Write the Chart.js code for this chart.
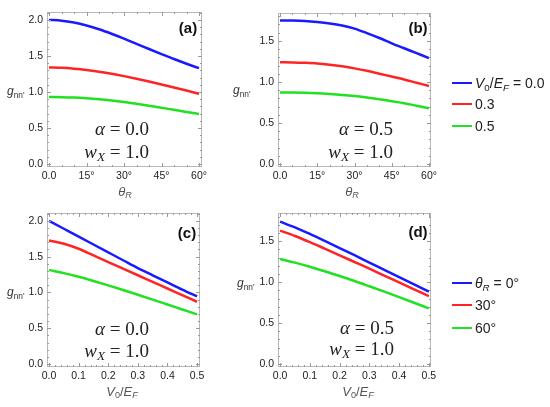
<!DOCTYPE html>
<html>
<head>
<meta charset="utf-8">
<script src="https://cdn.jsdelivr.net/npm/chart.js@4.4.1/dist/chart.umd.min.js"></script>
<style>
    body { margin: 0; background: #fff; }
    #wrap { position: relative; width: 550px; height: 407px; overflow: hidden; font-family: "Liberation Sans", Arial, sans-serif; }
    canvas { position: absolute; }
    .txt { position: absolute; white-space: nowrap; line-height: 1; }
    .txt sub { font-size: 70%; vertical-align: -0.3em; line-height: 0; }
    .math { font-family: "Liberation Serif", "DejaVu Serif", serif; font-size: 19px; color: #222; transform: translate(-100%, -50%); }
    .tag { font-weight: bold; font-size: 15px; color: #111; transform: translate(-50%, -50%); }
    .xtitle { font-size: 13px; color: #555; transform: translate(-50%, -50%); }
    .ytitle { font-size: 12px; color: #333; transform: translateY(-50%); }
    .leg { font-size: 14px; color: #222; transform: translateY(-50%); }
    .legline { position: absolute; width: 20px; height: 2px; }
</style>
</head>
<body>
<div id="wrap">
    <canvas id="panelA" width="215" height="200" style="left:0;top:0"></canvas>
    <canvas id="panelB" width="215" height="200" style="left:231px;top:0"></canvas>
    <canvas id="panelC" width="215" height="207" style="left:0;top:200px"></canvas>
    <canvas id="panelD" width="215" height="207" style="left:231px;top:200px"></canvas>
</div>
<script>
// Ejes x
const thetaDeg = [0, 5, 10, 15, 20, 25, 30, 35, 40, 45, 50, 55, 60];
const v0Ratio = [0, 0.05, 0.1, 0.15, 0.2, 0.25, 0.3, 0.35, 0.4, 0.45, 0.5];

// (a) alpha = 0.0, curvas por V0/EF
const a_v00 = [2.00, 1.99, 1.963, 1.922, 1.87, 1.808, 1.74, 1.668, 1.596, 1.526, 1.457, 1.392, 1.33];
const a_v03 = [1.34, 1.335, 1.323, 1.305, 1.281, 1.253, 1.22, 1.184, 1.145, 1.104, 1.062, 1.019, 0.975];
const a_v05 = [0.93, 0.928, 0.922, 0.912, 0.898, 0.88, 0.859, 0.835, 0.809, 0.781, 0.752, 0.723, 0.695];

// (b) alpha = 0.5, curvas por V0/EF
const b_v00 = [1.75, 1.748, 1.742, 1.73, 1.713, 1.688, 1.65, 1.595, 1.535, 1.47, 1.41, 1.35, 1.29];
const b_v03 = [1.24, 1.238, 1.233, 1.225, 1.21, 1.19, 1.165, 1.135, 1.10, 1.065, 1.03, 0.99, 0.95];
const b_v05 = [0.872, 0.871, 0.868, 0.862, 0.853, 0.842, 0.828, 0.81, 0.79, 0.765, 0.74, 0.71, 0.68];

// (c) alpha = 0.0, curvas por thetaR
const c_t00 = [2.00, 1.89, 1.78, 1.67, 1.56, 1.45, 1.34, 1.24, 1.14, 1.04, 0.945];
const c_t30 = [1.725, 1.68, 1.61, 1.5175, 1.425, 1.3325, 1.24, 1.1475, 1.055, 0.9625, 0.87];
const c_t60 = [1.315, 1.27, 1.218, 1.16, 1.098, 1.034, 0.968, 0.90, 0.831, 0.762, 0.693];

// (d) alpha = 0.5, curvas por thetaR
const d_t00 = [1.74, 1.67, 1.59, 1.505, 1.418, 1.33, 1.24, 1.151, 1.062, 0.973, 0.884];
const d_t30 = [1.63, 1.565, 1.49, 1.41, 1.329, 1.247, 1.165, 1.081, 0.997, 0.913, 0.829];
const d_t60 = [1.284, 1.239, 1.189, 1.134, 1.076, 1.015, 0.95, 0.884, 0.817, 0.749, 0.68];

// Ticks
const yTicks20 = [0, 0.5, 1.0, 1.5, 2.0];
const yTicks15 = [0, 0.5, 1.0, 1.5];
const yMinor = [0.1, 0.2, 0.3, 0.4, 0.6, 0.7, 0.8, 0.9, 1.1, 1.2, 1.3, 1.4, 1.6, 1.7, 1.8, 1.9, 2.1];
const thetaTicks = [0, 15, 30, 45, 60];
const thetaTickLabels = ["0.0", "15°", "30°", "45°", "60°"];
const thetaMinor = [5, 10, 20, 25, 35, 40, 50, 55];
const v0Ticks = [0, 0.1, 0.2, 0.3, 0.4, 0.5];
const v0TickLabels = ["0.0", "0.1", "0.2", "0.3", "0.4", "0.5"];
const v0Minor = [0.02, 0.04, 0.06, 0.08, 0.12, 0.14, 0.16, 0.18, 0.22, 0.24, 0.26, 0.28, 0.32, 0.34, 0.36, 0.38, 0.42, 0.44, 0.46, 0.48];

// Leyendas
const legendV0 = ["<i>V</i><sub>0</sub>/<i>E</i><sub><i>F</i></sub> = 0.0", "0.3", "0.5"];
const legendTheta = ["<i>θ</i><sub><i>R</i></sub> = 0°", "30°", "60°"];

const colores = ["#1a1aff", "#ff2424", "#22e022"];
const fuenteTicks = { family: "Liberation Sans", size: 10.5 };

// Marco con marcas hacia dentro (estilo Mathematica)
const marcoPlugin = {
    id: "marco",
    afterDatasetsDraw(chart, args, opts) {
        const { ctx, chartArea: a, scales } = chart;
        ctx.save();
        ctx.strokeStyle = "#b8b8b8";
        ctx.lineWidth = 1;
        ctx.strokeRect(Math.round(a.left) + 0.5, Math.round(a.top) + 0.5, Math.round(a.width) - 1, Math.round(a.height) - 1);
        ctx.strokeStyle = "#9a9a9a";
        ctx.beginPath();
        const marcaX = (vals, len) => vals.forEach(v => {
            const px = Math.round(scales.x.getPixelForValue(v)) + 0.5;
            ctx.moveTo(px, a.bottom); ctx.lineTo(px, a.bottom - len);
            ctx.moveTo(px, a.top); ctx.lineTo(px, a.top + len);
        });
        const marcaY = (vals, len) => vals.forEach(v => {
            if (v > scales.y.max) return;
            const py = Math.round(scales.y.getPixelForValue(v)) + 0.5;
            ctx.moveTo(a.left, py); ctx.lineTo(a.left + len, py);
            ctx.moveTo(a.right, py); ctx.lineTo(a.right - len, py);
        });
        marcaX(opts.xMajor, 4);
        marcaX(opts.xMinor, 2);
        marcaY(opts.yMajor, 4);
        marcaY(yMinor, 2);
        ctx.stroke();
        ctx.restore();
    }
};

function crearPanel(id, xs, series, cfg) {
    const ctx = document.getElementById(id).getContext("2d");
    return new Chart(ctx, {
        type: "line",
        data: {
            datasets: series.map((vals, i) => ({
                data: xs.map((x, j) => ({ x: x, y: vals[j] })),
                borderColor: colores[i],
                borderWidth: 2.5,
                pointRadius: 0,
                cubicInterpolationMode: "monotone",
                fill: false
            }))
        },
        options: {
            responsive: false,
            animation: false,
            layout: { padding: { top: cfg.padTop, right: cfg.padRight, left: 0, bottom: 0 } },
            plugins: {
                legend: { display: false },
                tooltip: { enabled: false },
                marco: { xMajor: cfg.xTicks, xMinor: cfg.xMinor, yMajor: cfg.yTicks }
            },
            scales: {
                x: {
                    type: "linear",
                    min: cfg.xMin,
                    max: cfg.xMax,
                    grid: { display: false, drawTicks: false },
                    border: { display: false },
                    afterBuildTicks: s => { s.ticks = cfg.xTicks.map(v => ({ value: v })); },
                    afterFit: s => { s.height = cfg.xHeight; },
                    ticks: {
                        autoSkip: false, maxRotation: 0, padding: 3,
                        color: "#222", font: fuenteTicks,
                        callback: (v, i) => cfg.xLabels[i]
                    }
                },
                y: {
                    min: cfg.yMin,
                    max: cfg.yMax,
                    grid: { display: false, drawTicks: false },
                    border: { display: false },
                    afterBuildTicks: s => { s.ticks = cfg.yTicks.map(v => ({ value: v })); },
                    afterFit: s => { s.width = 47; },
                    ticks: {
                        autoSkip: false, padding: 4,
                        color: "#222", font: fuenteTicks,
                        callback: v => Number(v).toFixed(1)
                    }
                }
            }
        },
        plugins: [marcoPlugin]
    });
}

crearPanel("panelA", thetaDeg, [a_v00, a_v03, a_v05], {
    xMin: -0.8, xMax: 61.2, yMin: -0.042, yMax: 2.11,
    xTicks: thetaTicks, xLabels: thetaTickLabels, xMinor: thetaMinor, yTicks: yTicks20,
    padTop: 12, padRight: 13, xHeight: 33
});
crearPanel("panelB", thetaDeg, [b_v00, b_v03, b_v05], {
    xMin: -0.8, xMax: 60.8, yMin: -0.037, yMax: 1.84,
    xTicks: thetaTicks, xLabels: thetaTickLabels, xMinor: thetaMinor, yTicks: yTicks15,
    padTop: 13, padRight: 15, xHeight: 33
});
crearPanel("panelC", v0Ratio, [c_t00, c_t30, c_t60], {
    xMin: -0.007, xMax: 0.51, yMin: -0.042, yMax: 2.11,
    xTicks: v0Ticks, xLabels: v0TickLabels, xMinor: v0Minor, yTicks: yTicks20,
    padTop: 13, padRight: 15, xHeight: 40
});
crearPanel("panelD", v0Ratio, [d_t00, d_t30, d_t60], {
    xMin: -0.007, xMax: 0.507, yMin: -0.037, yMax: 1.846,
    xTicks: v0Ticks, xLabels: v0TickLabels, xMinor: v0Minor, yTicks: yTicks15,
    padTop: 13, padRight: 15, xHeight: 40
});

// Textos superpuestos
const wrap = document.getElementById("wrap");
function texto(cls, html, x, y) {
    const el = document.createElement("div");
    el.className = "txt " + cls;
    el.innerHTML = html;
    el.style.left = x + "px";
    el.style.top = y + "px";
    wrap.appendChild(el);
}

const gTitulo = "<i>g</i><sub>nn'</sub>";
const thetaTitulo = "<i>θ</i><sub><i>R</i></sub>";
const v0Titulo = "<i>V</i><sub>0</sub>/<i>E</i><sub><i>F</i></sub>";

[["a", 188, 27], ["b", 418, 27], ["c", 187, 232], ["d", 418, 231]].forEach(p => texto("tag", "(" + p[0] + ")", p[1], p[2]));

texto("math", "<i>α</i> = 0.0", 149, 128);
texto("math", "<i>w</i><sub><i>X</i></sub> = 1.0", 149, 151);
texto("math", "<i>α</i> = 0.5", 393, 128);
texto("math", "<i>w</i><sub><i>X</i></sub> = 1.0", 393, 151);
texto("math", "<i>α</i> = 0.0", 149, 328);
texto("math", "<i>w</i><sub><i>X</i></sub> = 1.0", 149, 350);
texto("math", "<i>α</i> = 0.5", 394, 327);
texto("math", "<i>w</i><sub><i>X</i></sub> = 1.0", 394, 348);

texto("ytitle", gTitulo, 7, 91);
texto("ytitle", gTitulo, 233, 90);
texto("ytitle", gTitulo, 7, 292);
texto("ytitle", gTitulo, 237, 283);

texto("xtitle", thetaTitulo, 125, 191);
texto("xtitle", thetaTitulo, 352, 191);
texto("xtitle", v0Titulo, 122, 391);
texto("xtitle", v0Titulo, 358, 391);

function leyenda(labels, x, ys) {
    labels.forEach((lab, i) => {
        const ln = document.createElement("div");
        ln.className = "legline";
        ln.style.left = x + "px";
        ln.style.top = (ys[i] - 1) + "px";
        ln.style.background = colores[i];
        wrap.appendChild(ln);
        texto("leg", lab, x + 23, ys[i]);
    });
}
leyenda(legendV0, 452, [83, 104, 126]);
leyenda(legendTheta, 452, [283, 305, 328]);
</script>
</body>
</html>
